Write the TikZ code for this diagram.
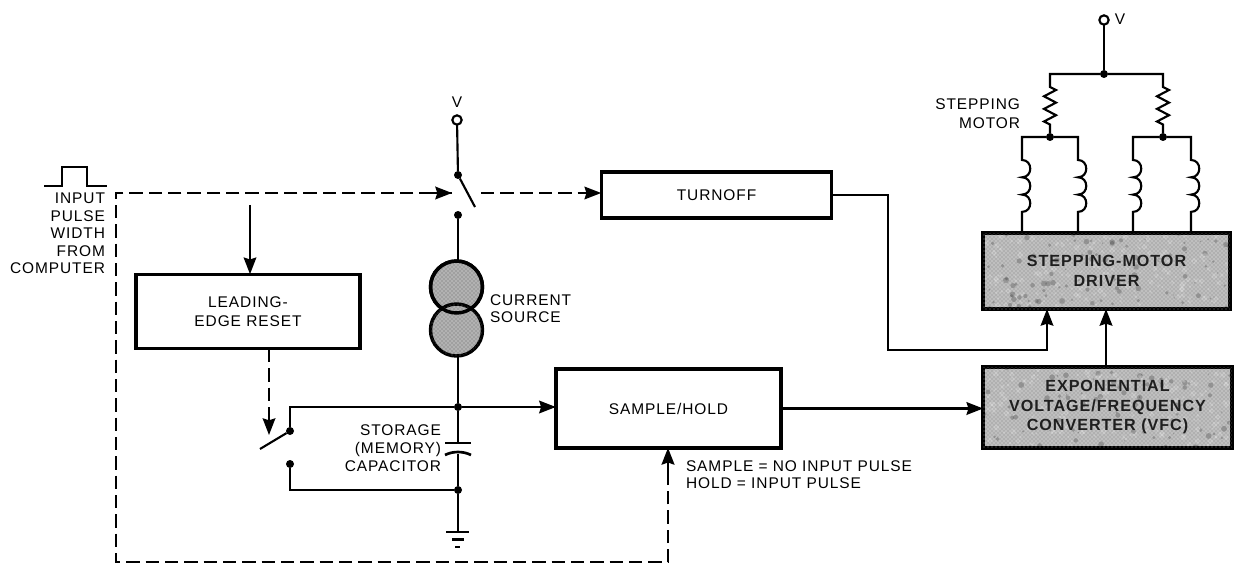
\documentclass[tikz,border=0pt]{standalone}
\usepackage{fontspec}
\setmainfont[LetterSpace=6]{Liberation Sans}
\usetikzlibrary{arrows.meta,patterns}
\tikzset{
 wire/.style={line width=1.6pt,line join=miter},
 dash wire/.style={wire,dash pattern=on 10pt off 4.5pt},
 sig/.style={-{Stealth[length=12.5pt,width=9.5pt,inset=1.5pt]}},
 box/.style={draw,line width=2.3pt,fill=white,inner sep=0pt,outer sep=0pt,align=center},
 mottle/.style={path picture={
   \pgfmathsetseed{#1}
   \foreach \i in {1,...,420}{
     \pgfmathsetmacro{\dx}{rnd*250-125}
     \pgfmathsetmacro{\dy}{rnd*90-45}
     \pgfmathsetmacro{\ds}{rnd*5+1}
     \pgfmathsetmacro{\sh}{rnd>0.7?85:8}
     \fill[black!\sh,opacity=.28] ([shift={(\dx,\dy)}]path picture bounding box.center) circle (\ds*0.5);
   }
 }},
 grey box/.style={box,line width=2.8pt,fill=gray!50,font=\fontsize{12.1}{14.6}\selectfont\bfseries\color{black!88},postaction={pattern=crosshatch dots,pattern color=black!50},mottle=#1},
 lab/.style={inner sep=0pt,outer sep=0pt,font=\fontsize{11.6}{13}\selectfont},
 dot/.style={circle,fill=black,inner sep=0pt,minimum size=6pt,outer sep=0pt},
 term/.style={circle,draw,fill=white,line width=1.6pt,inner sep=0pt,minimum size=7pt,outer sep=0pt},
 src/.style={circle,draw,line width=2.6pt,fill=gray!60,postaction={pattern=crosshatch dots,pattern color=black!60},inner sep=0pt,minimum size=39pt,outer sep=0pt},
}
\newcommand{\coil}{.. controls +(11,0) and +(11,0) .. ++(0,17.3) .. controls +(11,0) and +(11,0) .. ++(0,17.3) .. controls +(11,0) and +(11,0) .. ++(0,17.3)}
\newcommand{\zig}{-- ++(6,3) -- ++(-12,6.3) -- ++(12,6.3) -- ++(-12,6.3) -- ++(12,6.3) -- ++(-12,6.3) -- ++(6,3)}
\begin{document}
\begin{tikzpicture}[x=0.75pt,y=-0.75pt,font=\fontsize{11.6}{13}\selectfont]
\useasboundingbox (0,0) rectangle (1235,563);
% blocks
\node[box,minimum width=173pt,minimum height=34.5pt] (turnoff) at (716.5,195) {TURNOFF};
\node[box,minimum width=168pt,minimum height=56pt] (reset) at (248,311.5) {LEADING-\\[1pt]EDGE RESET};
\node[box,line width=2.6pt,minimum width=169pt,minimum height=59pt] (sh) at (668.5,408.5) {SAMPLE/HOLD};
\node[grey box=7,minimum width=185pt,minimum height=57pt] (driver) at (1106.5,271) {STEPPING-MOTOR\\DRIVER};
\node[grey box=11,minimum width=186.5pt,minimum height=60.5pt] (vfc) at (1107.5,407.5) {EXPONENTIAL\\VOLTAGE/FREQUENCY\\CONVERTER (VFC)};
% left terminal and pulse
\draw[wire,line width=1.3pt] (44,186) -- (62,186) -- (62,167) -- (87,167) -- (87,186) -- (107,186);
\node[lab,anchor=east,align=right] (inlab) at (105,233.5) {INPUT\\[0.2pt]PULSE\\[0.2pt]WIDTH\\[0.2pt]FROM\\[0.2pt]COMPUTER};
% switch S1 with V
\node[term] (v1) at (457,120) {};
\node[lab] (v1lab) at (457,102) {V};
\node[dot] (s1a) at (458,175) {};
\node[dot] (s1b) at (458,215) {};
\coordinate (s1tip) at (475,207);
\draw[wire] (v1) -- (s1a);
\draw[wire] (s1a) -- (s1tip);
% dashed control
\coordinate (dtl) at (116,193);
\coordinate (dbl) at (116,562);
\coordinate (dbr) at (668,562);
\coordinate (s1in) at (452,193);
\coordinate (s1out) at (481,193);
\draw[dash wire] (s1in) -- (dtl) -- (dbl) -- (dbr) -- (sh.south -| dbr);
\draw[wire,sig] (430,193) -- (s1in);
\draw[wire,line width=2.2pt,sig] (668,474) -- (sh.south -| dbr);
\draw[dash wire,sig] (s1out) -- (s1out -| turnoff.west);
% reset
\coordinate (rin) at (250,205);
\draw[wire,sig] (rin) -- (rin |- reset.north);
\coordinate (rout) at (269,349);
\coordinate (rtip) at (269,435);
\draw[dash wire,sig] (rout) -- (rtip);
% current source
\node[src] (cs1) at (456.5,287) {};
\node[src] (cs2) at (456.5,330) {};
\draw[line width=2.6pt] (cs1) circle (19.5pt);
\node[lab,anchor=west,align=left] (cslab) at (490,309) {CURRENT\\[-0.3pt]SOURCE};
\draw[wire] (s1b) -- (s1b |- cs1.north);
% storage node
\node[dot] (n1) at (458,407) {};
\node[dot] (n2) at (458,490) {};
\draw[wire] (n1 |- cs2.south) -- (n1);
\node[dot] (s2a) at (290,431) {};
\node[dot] (s2b) at (290,464) {};
\coordinate (s2tip) at (260,449);
\draw[wire] (s2a) -- (s2tip);
\draw[wire] (s2a) -- (s2a |- n1) -- (n1);
\draw[wire] (s2b) -- (s2b |- n2) -- (n2);
\draw[wire,sig] (n1) -- (n1 -| sh.west);
% capacitor
\coordinate (cp1) at (458,443);
\coordinate (cp2) at (458,454);
\draw[wire] (n1) -- (cp1);
\draw[wire] (cp2) -- (n2);
\draw[line width=2pt] (445,443) -- (471,443);
\draw[line width=2pt] (445,455) .. controls (453,451) and (463,451) .. (471,455);
\node[lab,anchor=east,align=right] (caplab) at (441,448) {STORAGE\\[0.6pt](MEMORY)\\[0.6pt]CAPACITOR};
% ground
\coordinate (gnd) at (458,532);
\draw[wire] (n2) -- (gnd);
\draw[line width=2pt] (446,532) -- (469,532);
\draw[line width=2pt] (452,539.5) -- (464,539.5);
\draw[line width=2pt] (455,547) -- (460,547);
% S/H outputs
\draw[wire,line width=1.9pt,sig] (sh.east) -- (sh.east -| vfc.west);
\node[lab,anchor=west,align=left] (shlab) at (686,474.5) {SAMPLE = NO INPUT PULSE\\[-0.3pt]HOLD = INPUT PULSE};
% turnoff to driver
\coordinate (tk1) at (888,195);
\coordinate (tk2) at (888,350);
\coordinate (tk3) at (1047,350);
\draw[wire,sig] (turnoff.east) -- (tk1) -- (tk2) -- (tk3) -- (tk3 |- driver.south);
\coordinate (vup) at (1106,367);
\draw[wire,line width=1.9pt,sig] (vup) -- (vup |- driver.south);
% motor
\node[term] (v2) at (1104,20) {};
\node[lab] (v2lab) at (1120,19) {V};
\node[dot] (top) at (1104,74) {};
\draw[wire,line width=1.9pt] (v2) -- (top);
\node[dot] (m1) at (1050,137) {};
\node[dot] (m2) at (1163,137) {};
\path (m1) ++(0,-50) coordinate (r1);
\path (m2) ++(0,-50) coordinate (r2);
\draw[wire] (top) -- (m1 |- top) -- (r1) \zig -- (m1);
\draw[wire] (top) -- (m2 |- top) -- (r2) \zig -- (m2);
\node[lab,anchor=east,align=right] (mlab) at (1020,114) {STEPPING\\[1pt]MOTOR};
\foreach \n/\a in {m1/1022,m1/1078,m2/1133,m2/1191}{
  \draw[wire] (\n) -| (\a,160) \coil -- (\a,233);
}
\end{tikzpicture}
\end{document}
